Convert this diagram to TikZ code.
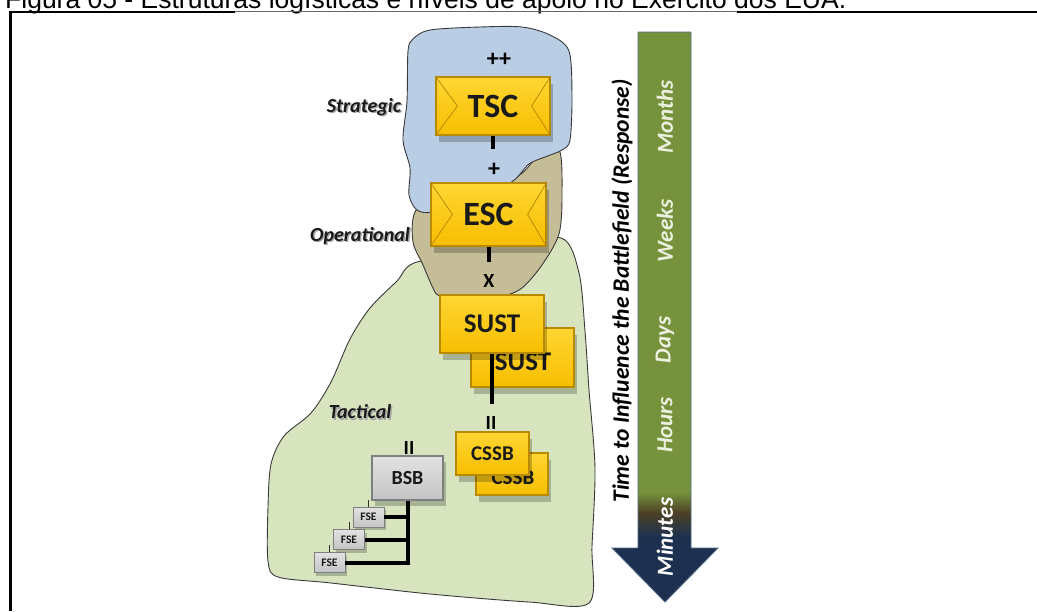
\documentclass[tikz,border=0pt]{standalone}
\usepackage{fontspec}
\setmainfont{Carlito}
\newfontfamily\capfont{Liberation Sans}
\usetikzlibrary{calc,shadows}
\definecolor{blueregion}{HTML}{B9CDE5}
\definecolor{tanregion}{HTML}{C4BD97}
\definecolor{greenregion}{HTML}{D7E4BD}
\definecolor{outlinegray}{HTML}{3A3A3A}
\definecolor{yellowtop}{HTML}{FFD633}
\definecolor{yellowbot}{HTML}{F7BE00}
\definecolor{goldborder}{HTML}{B88A00}
\definecolor{envline}{HTML}{A87C00}
\definecolor{graytop}{HTML}{E2E2E2}
\definecolor{graybot}{HTML}{C4C4C4}
\definecolor{grayborder}{HTML}{7F7F7F}
\definecolor{textdark}{HTML}{1A1A1A}
\definecolor{arrowgreen}{HTML}{76923C}
\definecolor{arrowbrown}{HTML}{4B4026}
\definecolor{arrownavy}{HTML}{1D3050}
\definecolor{arrowborder}{HTML}{4F6A8A}
\definecolor{timetext}{HTML}{EBF1DE}
\pgfdeclareverticalshading{timeshade}{100bp}{color(0bp)=(arrownavy); color(30.7bp)=(arrownavy); color(32.8bp)=(arrowbrown); color(34.6bp)=(arrowgreen); color(100bp)=(arrowgreen)}
\tikzset{
  region/.style={draw=outlinegray, line width=0.9pt},
  ybox/.style={draw=goldborder, line width=1.2pt, top color=yellowtop, bottom color=yellowbot,
    text=textdark, inner sep=0pt, font=\bfseries\fontsize{27}{27}\selectfont,
    drop shadow={shadow xshift=3pt, shadow yshift=-7pt, opacity=0.22, fill=black}},
  ybig/.style={ybox, font=\bfseries\fontsize{34}{34}\selectfont},
  ysmall/.style={ybox, font=\bfseries\fontsize{21}{21}\selectfont},
  backtext/.style={inner sep=0pt, text=textdark, font=\bfseries\fontsize{27}{27}\selectfont},
  backsmall/.style={backtext, font=\bfseries\fontsize{21}{21}\selectfont},
  gbox/.style={draw=grayborder, line width=1.2pt, top color=graytop, bottom color=graybot,
    text=textdark, inner sep=0pt, font=\bfseries\fontsize{20}{20}\selectfont,
    drop shadow={shadow xshift=3pt, shadow yshift=-6pt, opacity=0.22, fill=black}},
  fbox/.style={draw=grayborder, line width=0.9pt, top color=graytop, bottom color=graybot,
    text=textdark, inner sep=0pt, font=\bfseries\fontsize{11.5}{11.5}\selectfont,
    minimum width=31pt, minimum height=20pt,
    drop shadow={shadow xshift=2pt, shadow yshift=-3pt, opacity=0.22, fill=black}},
  envlines/.style={draw=envline, line width=0.6pt},
  link/.style={draw=black, line width=4pt},
  tickmark/.style={draw=black!80, line width=1pt},
  echelon/.style={font=\bfseries\fontsize{20}{20}\selectfont, text=black, inner sep=0pt},
  lvl/.style={font=\bfseries\itshape\fontsize{20}{20}\selectfont, text=textdark, inner sep=0pt},
  lvlshadow/.style={lvl, text=black!35},
  timelbl/.style={font=\bfseries\itshape\fontsize{23}{23}\selectfont, text=timetext, rotate=90, inner sep=0pt}
}
\begin{document}
\begin{tikzpicture}[x=1pt,y=-1pt]
\useasboundingbox (0,0) rectangle (1037,611);
\fill[white] (0,0) rectangle (1037,611);
% caption (cut at the top) and frame
\node[anchor=base west, inner sep=0pt, font=\capfont\fontsize{26.5}{30}\selectfont] (caption) at (5,8.5) {Figura 05 - Estruturas logísticas e níveis de apoio no Exército dos EUA.};
\draw[line width=3pt] (10.5,611) -- (10.5,11);
\draw[line width=2.5pt] (9,12) -- (235,12);
\draw[line width=0.8pt, black!60] (235,11.5) -- (737,11.5);
\draw[line width=2.5pt] (737,12) -- (1037,12);
% regions
\path[region, fill=greenregion] plot[smooth cycle, tension=0.5] coordinates {
 (417,262) (397,281) (370,308) (350,339) (331,382) (311,413) (284,436) (271,464)
 (268,507) (268,561) (278,577) (331,583) (430,594) (529,602) (589,603) (592,546)
 (595,468) (589,390) (585,331) (579,273) (561,238) (500,250)};
\path[region, fill=tanregion] plot[smooth cycle, tension=0.5] coordinates {
 (559,150) (562,195) (559,234) (542,265) (522,288) (503,296) (470,300) (440,296)
 (433,288) (423,265) (413,242) (415,212) (440,190) (513,178) (535,160)};
\path[region, fill=blueregion] plot[smooth cycle, tension=0.5] coordinates {
 (413,39) (430,30) (480,27) (522,27) (550,35) (569,51) (572,97) (570,140) (562,150)
 (545,157) (529,164) (513,181) (480,200) (433,212) (417,210) (409,195) (410,168)
 (403,140) (407,101) (408,51)};
% level labels
\node[lvlshadow] (strat-sh) at (365.5,108.5) {Strategic};
\node[lvl] (strat) at (364,107) {Strategic};
\node[lvlshadow] (oper-sh) at (361.5,237.5) {Operational};
\node[lvl] (oper) at (360,236) {Operational};
\node[lvlshadow] (tact-sh) at (361.5,413.5) {Tactical};
\node[lvl] (tact) at (360,412) {Tactical};
% TSC
\node[echelon, font=\bfseries\fontsize{24}{24}\selectfont] (tscmark) at (499,60) {++};
\node[ybig, minimum width=114pt, minimum height=58pt] (tsc) at (493,106) {TSC};
\draw[envlines] (tsc.north west) -- ($(tsc.west)+(22,0)$) -- (tsc.south west);
\draw[envlines] (tsc.north east) -- ($(tsc.east)+(-19,0)$) -- (tsc.south east);
\coordinate (tscEnd) at (493,149);
\draw[link] (tsc.south) -- (tscEnd);
% ESC
\node[echelon, font=\bfseries\fontsize{24}{24}\selectfont] (escmark) at (494,170) {+};
\node[ybig, minimum width=115pt, minimum height=63pt] (esc) at (488.5,214.5) {ESC};
\draw[envlines] (esc.north west) -- ($(esc.west)+(22,0)$) -- (esc.south west);
\draw[envlines] (esc.north east) -- ($(esc.east)+(-19,0)$) -- (esc.south east);
\coordinate (escEnd) at (488.5,262);
\draw[link] (esc.south) -- (escEnd);
% SUST
\node[echelon] (sustmark) at (489,281) {X};
\node[ybox, minimum width=103pt, minimum height=59pt] (sustB) at (522.5,357.5) {};
\node[backtext] (sustBtext) at (523,362) {SUST};
\node[ybox, minimum width=104pt, minimum height=58pt] (sustA) at (492,324) {SUST};
\coordinate (sustEnd) at (492,404);
\draw[link, line width=3.5pt] (sustA.south) -- (sustEnd);
% CSSB
\node[echelon] (cssbmark) at (491,423) {II};
\node[ysmall, minimum width=72pt, minimum height=42pt] (cssbB) at (512,474) {};
\node[backsmall] (cssbBtext) at (513,478) {CSSB};
\node[ysmall, minimum width=73pt, minimum height=43pt] (cssbA) at (492.5,453.5) {CSSB};
% BSB and FSE
\node[echelon] (bsbmark) at (409,448) {II};
\node[gbox, minimum width=71pt, minimum height=44pt] (bsb) at (407.5,478) {BSB};
\node[fbox] (fse1) at (368.5,517) {FSE};
\node[fbox] (fse2) at (349,539.5) {FSE};
\node[fbox] (fse3) at (329.5,562.5) {FSE};
\draw[tickmark] (fse1.north) -- ++(0,-7);
\draw[tickmark] (fse2.north) -- ++(0,-7);
\draw[tickmark] (fse3.north) -- ++(0,-7);
\coordinate (bsbEnd) at (407.5,564.5);
\draw[link] (bsb.south) -- (bsbEnd);
\draw[link] (fse1.east) -- (fse1.east -| bsb.south);
\draw[link] (fse2.east) -- (fse2.east -| bsb.south);
\draw[link] (fse3.east) -- (fse3.east -| bsb.south);
% time arrow
\path[shading=timeshade, draw=arrowborder, line width=0.8pt]
  (638,32) -- (691,32) -- (691,548) -- (718,548) -- (665,602) -- (612,548) -- (638,548) -- cycle;
\node[timelbl] (months) at (665,117) {Months};
\node[timelbl] (weeks) at (665,231) {Weeks};
\node[timelbl] (days) at (665,340) {Days};
\node[timelbl] (hours) at (665,425) {Hours};
\node[timelbl, text=white] (minutes) at (665,537) {Minutes};
\node[font=\bfseries\itshape\fontsize{23.5}{23.5}\selectfont, rotate=90, inner sep=0pt, text=black] (timetitle) at (622,291) {Time to Influence the Battlefield (Response)};
\end{tikzpicture}
\end{document}
